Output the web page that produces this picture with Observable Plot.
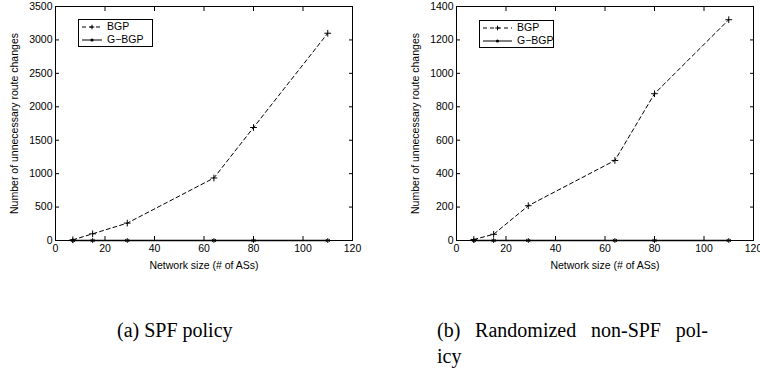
<!DOCTYPE html>
<html>
<head>
<meta charset="utf-8">
<script src="https://cdn.jsdelivr.net/npm/d3@7"></script>
<script src="https://cdn.jsdelivr.net/npm/@observablehq/plot@0.6"></script>
<style>
  html, body { margin: 0; padding: 0; background: #fff; }
  #root { position: relative; width: 760px; height: 374px; overflow: hidden; background: #fff; }
  .panel { position: absolute; top: 0; }
  .legend { position: absolute; border: 1px solid #000; background: #fff; font: 10.5px "Liberation Sans", Arial, sans-serif; color: #000; }
  .legend .row { position: absolute; left: 0; height: 12px; white-space: nowrap; }
  .legend svg { position: absolute; top: 0; }
  .legend span { position: absolute; top: -1px; }
  .cap { position: absolute; font: 20px "Liberation Serif", "Times New Roman", serif; color: #000; white-space: nowrap; }
</style>
</head>
<body>
<div id="root"></div>
<script>
// ---- data ----
const networkSize = [7, 15, 29, 64, 80, 110];
const bgpSPF      = [10, 100, 260, 935, 1690, 3100];
const gbgpSPF     = [0, 0, 0, 0, 0, 0];
const bgpRand     = [6, 37, 208, 479, 878, 1321];
const gbgpRand    = [0, 0, 0, 0, 0, 0];
const xTicks      = [0, 20, 40, 60, 80, 100, 120];
const yTicksSPF   = [0, 500, 1000, 1500, 2000, 2500, 3000, 3500];
const yTicksRand  = [0, 200, 400, 600, 800, 1000, 1200, 1400];
const seriesNames = ["BGP", "G\u2212BGP"];
const xLabel = "Network size (# of ASs)";
const yLabel = "Number of unnecessary route changes";
const captions = ["(a) SPF policy", "(b) Randomized non-SPF pol-", "icy"];

const root = document.getElementById("root");

function rows(xs, ys) { return xs.map((x, i) => ({x, y: ys[i]})); }

function makePanel({bgp, gbgp, yTicks, yMax, margins}) {
  const inward = -4;
  return Plot.plot({
    width: 380, height: 280,
    marginLeft: margins[0], marginRight: margins[1], marginTop: margins[2], marginBottom: margins[3],
    style: {fontFamily: "'Liberation Sans', Arial, sans-serif", fontSize: "10.5px", color: "#000", background: "#fff", overflow: "visible"},
    x: {domain: [0, 120]},
    y: {domain: [0, yMax]},
    marks: [
      Plot.frame({stroke: "#000", strokeWidth: 1}),
      Plot.axisX({ticks: xTicks, anchor: "bottom", tickSize: inward, tickPadding: 8, label: xLabel, labelAnchor: "center", labelArrow: "none", labelOffset: 28, tickFormat: d3.format("d")}),
      Plot.axisX({ticks: xTicks, anchor: "top", tickSize: inward, tickFormat: () => "", label: null}),
      Plot.axisY({ticks: yTicks, anchor: "left", tickSize: inward, tickPadding: 7, label: yLabel, labelAnchor: "center", labelArrow: "none", labelOffset: 45, tickFormat: d3.format("d")}),
      Plot.axisY({ticks: yTicks, anchor: "right", tickSize: inward, tickFormat: () => "", label: null}),
      Plot.line(rows(networkSize, gbgp), {x: "x", y: "y", stroke: "#000", strokeWidth: 1.6}),
      Plot.dot(rows(networkSize, gbgp), {x: "x", y: "y", symbol: "asterisk", r: 2.2, stroke: "#000", strokeWidth: 1}),
      Plot.line(rows(networkSize, bgp), {x: "x", y: "y", stroke: "#000", strokeWidth: 1, strokeDasharray: "4,3"}),
      Plot.dot(rows(networkSize, bgp), {x: "x", y: "y", symbol: "plus", r: 2.3, stroke: "#000", strokeWidth: 1})
    ]
  });
}

const left = makePanel({bgp: bgpSPF, gbgp: gbgpSPF, yTicks: yTicksSPF, yMax: 3500, margins: [55, 28, 6, 40]});
left.classList.add("panel"); left.style.left = "0px";
root.appendChild(left);

const right = makePanel({bgp: bgpRand, gbgp: gbgpRand, yTicks: yTicksRand, yMax: 1400, margins: [76, 7, 6, 40]});
right.classList.add("panel"); right.style.left = "380px";
root.appendChild(right);

function legend(x, y, w, h, textLeft) {
  const box = document.createElement("div");
  box.className = "legend";
  Object.assign(box.style, {left: x + "px", top: y + "px", width: w + "px", height: h + "px"});
  seriesNames.forEach((name, i) => {
    const row = document.createElement("div");
    row.className = "row";
    row.style.top = (i === 0 ? 1 : 14) + "px";
    row.style.width = w + "px";
    const dashed = i === 0;
    const lx0 = 3, lx1 = textLeft - 5, mx = (lx0 + lx1) / 2;
    const sym = dashed
      ? `<path d="M${mx - 2.3},6H${mx + 2.3}M${mx},3.7V8.3" stroke="#000" stroke-width="1"/>`
      : `<circle cx="${mx}" cy="6" r="1.6" fill="#000"/>`;
    row.innerHTML = `<svg width="${textLeft}" height="12" style="left:0"><line x1="${lx0}" y1="6" x2="${lx1}" y2="6" stroke="#000" stroke-width="1" ${dashed ? 'stroke-dasharray="4,3"' : ''}/>${sym}</svg><span style="left:${textLeft}px">${name}</span>`;
    box.appendChild(row);
  });
  root.appendChild(box);
}
legend(78, 19, 73, 26, 28);
legend(479, 20, 73, 26, 37);

function caption(text, x, y, width) {
  const d = document.createElement("div");
  d.className = "cap";
  d.textContent = text;
  Object.assign(d.style, {left: x + "px", top: y + "px"});
  if (width) { d.style.width = width + "px"; d.style.textAlign = "justify"; d.style.textAlignLast = "justify"; }
  root.appendChild(d);
}
caption(captions[0], 117, 319);
caption(captions[1], 437, 319, 271);
caption(captions[2], 437, 345);
</script>
</body>
</html>
